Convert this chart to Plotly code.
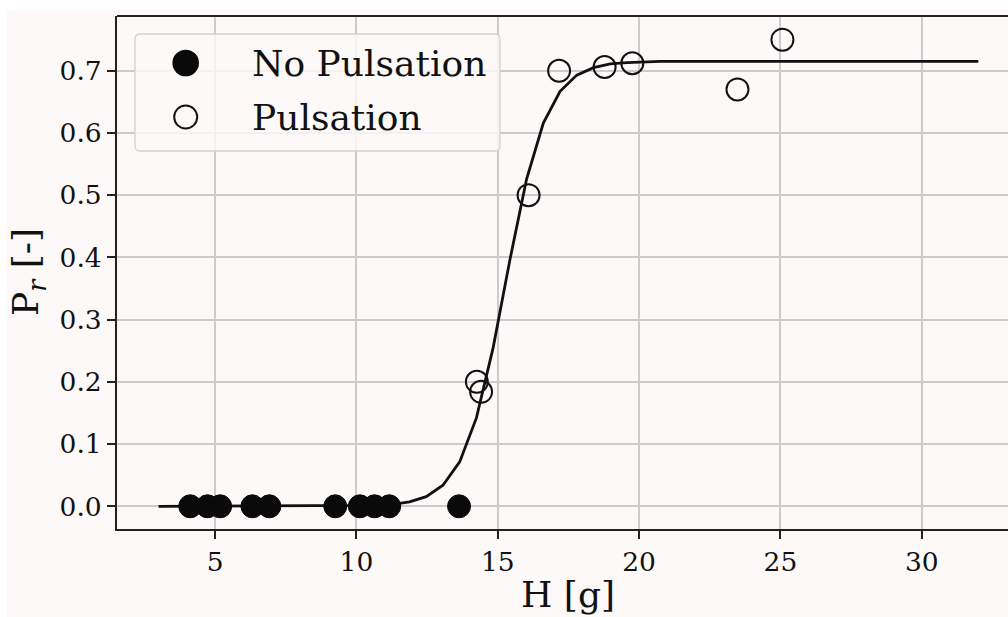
import plotly.graph_objects as go

# ---- data ----
no_puls_x = [4.12, 4.73, 5.18, 6.32, 6.92, 9.25, 10.12, 10.64, 11.16, 13.63]
no_puls_y = [0.0, 0.0, 0.0, 0.0, 0.0, 0.0, 0.0, 0.0, 0.0, 0.0]

puls_x = [14.26, 14.41, 16.09, 17.17, 18.78, 19.76, 23.48, 25.07]
puls_y = [0.200, 0.184, 0.500, 0.700, 0.706, 0.712, 0.670, 0.750]

fit_x = [3.0, 10.102, 10.694, 11.286, 11.878, 12.469, 13.061, 13.653, 14.245,
         14.837, 15.429, 16.020, 16.612, 17.204, 17.796, 18.388, 18.980,
         19.571, 20.163, 20.755, 32.0]
fit_y = [0.0, 0.0006, 0.0014, 0.0032, 0.0070, 0.0155, 0.0339, 0.0713, 0.142,
         0.255, 0.396, 0.526, 0.616, 0.667, 0.693, 0.705, 0.711,
         0.713, 0.714, 0.715, 0.715]

x_ticks = [5, 10, 15, 20, 25, 30]
y_ticks = [0.0, 0.1, 0.2, 0.3, 0.4, 0.5, 0.6, 0.7]
legend_labels = ["No Pulsation", "Pulsation"]
x_title = "H [g]"
y_title = "P<sub><i>r</i></sub> [-]"

# ---- layout geometry (pixels) ----
W, H = 1008, 617
L, R, T, B = 117, 1008, 16, 529
BG = "#fcf9f8"
FONT = "DejaVu Serif"
INK = "#111111"


def px(x):
    return (x - L) / (R - L)


def py(y):
    return (B - y) / (B - T)


fig = go.Figure()
fig.add_trace(go.Scatter(x=fit_x, y=fit_y, mode="lines",
                         line=dict(color=INK, width=2.8), showlegend=False))
fig.add_trace(go.Scatter(x=no_puls_x, y=no_puls_y, mode="markers",
                         marker=dict(symbol="circle", size=23, color="#0a0a0a",
                                     line=dict(color="#0a0a0a", width=1)),
                         name=legend_labels[0], showlegend=False))
fig.add_trace(go.Scatter(x=puls_x, y=puls_y, mode="markers",
                         marker=dict(symbol="circle-open", size=22, color=INK,
                                     line=dict(color=INK, width=2)),
                         name=legend_labels[1], showlegend=False))

axis_common = dict(
    showgrid=True, gridcolor="#cbcbcb", gridwidth=1.5,
    zeroline=False, showline=True, linecolor="#222222", linewidth=2,
    ticks="outside", ticklen=8, tickwidth=1.5, tickcolor="#222222",
    tickfont=dict(family=FONT, size=26.5, color=INK),
)

fig.update_xaxes(range=[1.53, 33.05], tickvals=x_ticks,
                 ticktext=[str(v) for v in x_ticks], mirror=False,
                 **axis_common)
fig.update_yaxes(range=[-0.0365, 0.788], tickvals=y_ticks,
                 ticktext=[f"{v:.1f}" for v in y_ticks], **axis_common)

shapes = []
# white strips at top and left of the figure
shapes.append(dict(type="rect", xref="paper", yref="paper",
                   x0=px(-10), x1=px(W + 10), y0=py(10), y1=py(-10),
                   fillcolor="white", line=dict(width=0), layer="above"))
shapes.append(dict(type="rect", xref="paper", yref="paper",
                   x0=px(-10), x1=px(7), y0=py(H + 10), y1=py(-10),
                   fillcolor="white", line=dict(width=0), layer="above"))
# top spine (no right spine visible)
shapes.append(dict(type="line", xref="paper", yref="paper",
                   x0=0, x1=1, y0=1, y1=1,
                   line=dict(color="#222222", width=2), layer="above"))

# manual legend box with rounded corners
bx0, bx1, by0, by1, r = 135, 500, 34, 151, 5
path = (f"M {px(bx0 + r)},{py(by0)} L {px(bx1 - r)},{py(by0)} "
        f"Q {px(bx1)},{py(by0)} {px(bx1)},{py(by0 + r)} "
        f"L {px(bx1)},{py(by1 - r)} Q {px(bx1)},{py(by1)} {px(bx1 - r)},{py(by1)} "
        f"L {px(bx0 + r)},{py(by1)} Q {px(bx0)},{py(by1)} {px(bx0)},{py(by1 - r)} "
        f"L {px(bx0)},{py(by0 + r)} Q {px(bx0)},{py(by0)} {px(bx0 + r)},{py(by0)} Z")
shapes.append(dict(type="path", xref="paper", yref="paper", path=path,
                   fillcolor="rgba(252,249,248,0.85)",
                   line=dict(color="#d2d2d2", width=1.3), layer="above"))
legend_rows = [(63, "#0a0a0a", "#0a0a0a", 12.3), (117, "rgba(0,0,0,0)", INK, 11.5)]
for cy, fill, lc, rad in legend_rows:
    shapes.append(dict(type="circle", xref="paper", yref="paper",
                       xsizemode="pixel", ysizemode="pixel",
                       xanchor=px(185.7), yanchor=py(cy),
                       x0=-rad, x1=rad, y0=-rad, y1=rad,
                       fillcolor=fill, line=dict(color=lc, width=2),
                       layer="above"))

annotations = []
for (cy, _, _, _), lab in zip(legend_rows, legend_labels):
    annotations.append(dict(xref="paper", yref="paper", x=px(250), y=py(cy),
                            xanchor="left", yanchor="middle", text=lab,
                            showarrow=False,
                            font=dict(family=FONT, size=36, color=INK)))
annotations.append(dict(xref="paper", yref="paper", x=px(568.4), y=py(594),
                        xanchor="center", yanchor="middle", text=x_title,
                        showarrow=False,
                        font=dict(family=FONT, size=36, color=INK)))
annotations.append(dict(xref="paper", yref="paper", x=px(28), y=py(272),
                        xanchor="center", yanchor="middle", text=y_title,
                        textangle=-90, showarrow=False,
                        font=dict(family=FONT, size=36, color=INK)))

fig.update_layout(
    width=W, height=H,
    margin=dict(l=L, r=W - R, t=T, b=H - B, pad=0),
    paper_bgcolor=BG, plot_bgcolor=BG,
    shapes=shapes, annotations=annotations, showlegend=False,
)

fig.write_html("out.html")
